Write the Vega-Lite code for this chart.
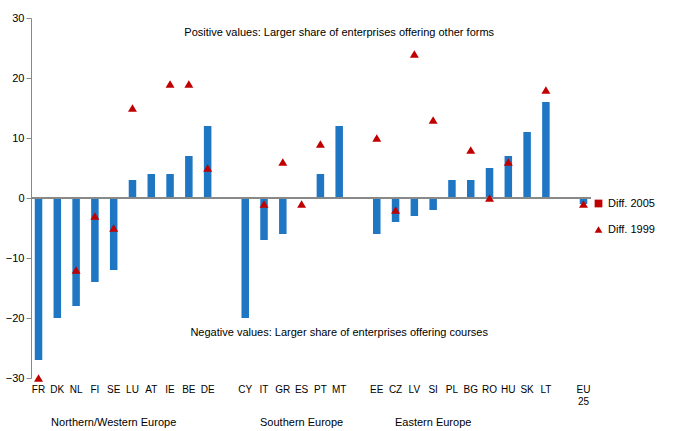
{
  "$schema": "https://vega.github.io/schema/vega-lite/v6.json",
  "width": 560,
  "height": 360,
  "padding": {"left": 5, "top": 12, "right": 5, "bottom": 5},
  "background": "white",
  "config": {"font": "Liberation Sans", "view": {"stroke": null}},
  "datasets": {
    "main": [
      {"c": "FR", "d2005": -27, "d1999": -30},
      {"c": "DK", "d2005": -20, "d1999": null},
      {"c": "NL", "d2005": -18, "d1999": -12},
      {"c": "FI", "d2005": -14, "d1999": -3},
      {"c": "SE", "d2005": -12, "d1999": -5},
      {"c": "LU", "d2005": 3, "d1999": 15},
      {"c": "AT", "d2005": 4, "d1999": null},
      {"c": "IE", "d2005": 4, "d1999": 19},
      {"c": "BE", "d2005": 7, "d1999": 19},
      {"c": "DE", "d2005": 12, "d1999": 5},
      {"c": "CY", "d2005": -20, "d1999": null},
      {"c": "IT", "d2005": -7, "d1999": -1},
      {"c": "GR", "d2005": -6, "d1999": 6},
      {"c": "ES", "d2005": 0, "d1999": -1},
      {"c": "PT", "d2005": 4, "d1999": 9},
      {"c": "MT", "d2005": 12, "d1999": null},
      {"c": "EE", "d2005": -6, "d1999": 10},
      {"c": "CZ", "d2005": -4, "d1999": -2},
      {"c": "LV", "d2005": -3, "d1999": 24},
      {"c": "SI", "d2005": -2, "d1999": 13},
      {"c": "PL", "d2005": 3, "d1999": null},
      {"c": "BG", "d2005": 3, "d1999": 8},
      {"c": "RO", "d2005": 5, "d1999": 0},
      {"c": "HU", "d2005": 7, "d1999": 6},
      {"c": "SK", "d2005": 11, "d1999": null},
      {"c": "LT", "d2005": 16, "d1999": 18},
      {"c": "EU", "d2005": -1, "d1999": -1}
    ],
    "groups": [
      {"c": "SE", "label": "Northern/Western Europe", "y": -37.5, "b": "normal"},
      {"c": "ES", "label": "Southern Europe", "y": -37.5, "b": "normal"},
      {"c": "SI", "label": "Eastern   Europe", "y": -37.5, "b": "normal"},
      {"c": "MT", "label": "Positive values: Larger share of enterprises offering other forms", "y": 27.5, "b": "bold"},
      {"c": "MT", "label": "Negative values: Larger share of enterprises offering courses", "y": -22.5, "b": "bold"}
    ]
  },
  "encoding": {
    "x": {
      "field": "c", "type": "nominal", "title": null,
      "scale": {"domain": ["FR","DK","NL","FI","SE","LU","AT","IE","BE","DE","_1","CY","IT","GR","ES","PT","MT","_2","EE","CZ","LV","SI","PL","BG","RO","HU","SK","LT","_3","EU"], "paddingInner": 0.6, "paddingOuter": 0.2},
      "axis": {"labelAngle": 0, "ticks": false, "domain": false, "labelFontSize": 10, "labelColor": "#000", "labelPadding": 6,
        "labelExpr": "datum.value == 'EU' ? ['EU','25'] : (indexof(datum.value, '_') == 0 ? '' : datum.value)"}
    }
  },
  "layer": [
    {
      "data": {"name": "main"},
      "mark": {"type": "bar", "color": "#1f77c4"},
      "encoding": {
        "y": {"field": "d2005", "type": "quantitative", "title": null,
          "scale": {"domain": [-30, 30]},
          "axis": {"values": [-30,-20,-10,0,10,20,30], "grid": false, "labelFontSize": 11, "labelColor": "#000", "domainColor": "#888", "tickColor": "#888"}}
      }
    },
    {
      "data": {"name": "main"},
      "mark": {"type": "rule", "color": "#888"},
      "encoding": {"x": null, "y": {"datum": 0}}
    },
    {
      "data": {"name": "main"},
      "transform": [{"filter": "datum.d1999 != null"}],
      "mark": {"type": "point", "filled": true, "opacity": 1, "size": 80, "color": "#c00000"},
      "encoding": {
        "y": {"field": "d1999", "type": "quantitative"},
        "shape": {"datum": "Diff. 1999", "type": "nominal",
          "scale": {"domain": ["Diff. 2005", "Diff. 1999"], "range": ["square", "triangle-up"]},
          "legend": {"title": null, "orient": "none", "legendX": 562, "legendY": 180, "labelFontSize": 11, "labelColor": "#000", "rowPadding": 12, "symbolSize": 60,
            "encode": {"symbols": {"update": {
              "fill": {"signal": "datum.value == 'Diff. 2005' ? '#1f77c4' : '#c00000'"},
              "stroke": {"signal": "datum.value == 'Diff. 2005' ? '#1f77c4' : '#c00000'"}}}}}}
      }
    },
    {
      "data": {"name": "groups"},
      "mark": {"type": "text", "fontSize": 11, "color": "#000"},
      "encoding": {
        "y": {"field": "y", "type": "quantitative"},
        "text": {"field": "label"},
        "fontWeight": {"field": "b", "type": "nominal", "scale": null}
      }
    }
  ]
}
